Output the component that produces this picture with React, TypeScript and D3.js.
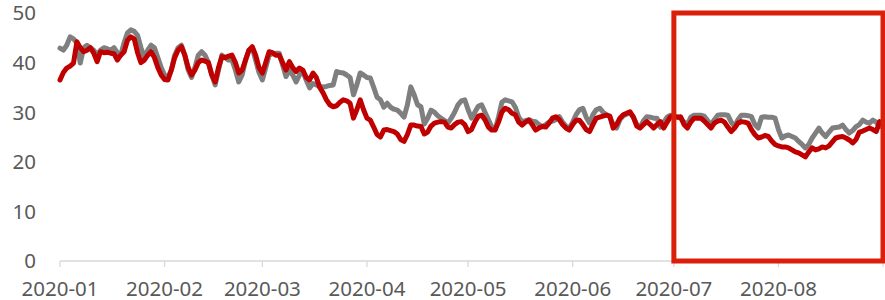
import * as d3 from 'd3';

// daily values, 2020-01-01 .. 2020-08-31
const grayValues = [
  42.9, 42.5, 43.5, 45.2, 44.8, 44.0, 39.9, 43.0, 43.5, 43.0, 42.5, 41.5, 42.5, 43.0,
  42.8, 42.5, 43.0, 42.0, 41.5, 44.0, 46.0, 46.6, 46.3, 45.5, 43.0, 41.0, 42.5, 43.5,
  43.0, 41.0, 39.0, 37.5, 37.0, 38.5, 41.5, 43.0, 43.5, 41.5, 38.5, 37.0, 39.0, 41.5,
  42.2, 41.5, 40.0, 37.5, 35.5, 38.5, 41.5, 41.0, 40.5, 40.5, 38.5, 36.1, 37.5, 40.5,
  42.5, 43.0, 40.5, 38.0, 36.5, 39.0, 41.5, 41.8, 41.9, 41.9, 39.5, 37.2, 38.5, 37.5,
  36.1, 37.5, 38.2, 36.5, 34.9, 35.8, 35.5, 35.2, 35.1, 35.2, 35.4, 35.5, 38.2, 38.0,
  37.9, 37.5, 37.0, 33.5, 35.5, 37.9, 37.5, 37.0, 36.9, 35.0, 33.0, 32.5, 31.0, 31.8,
  31.0, 30.6, 30.4, 29.8, 29.0, 31.5, 35.1, 33.5, 31.5, 31.1, 27.6, 28.8, 30.4, 30.0,
  29.3, 28.8, 28.3, 27.8, 28.8, 30.0, 31.5, 32.3, 32.5, 30.5, 28.8, 30.0, 31.2, 31.5,
  30.0, 28.5, 27.0, 26.5, 29.0, 32.0, 32.5, 32.3, 32.1, 31.0, 29.0, 28.1, 28.3, 28.5,
  28.2, 28.1, 27.5, 27.1, 27.5, 28.0, 28.2, 28.5, 29.1, 28.0, 27.2, 26.8, 28.0, 29.5,
  30.5, 30.8, 29.0, 27.8, 29.5, 30.5, 30.8, 30.0, 29.5, 29.1, 27.5, 26.8, 28.5, 29.3,
  29.6, 29.8, 29.0, 27.5, 27.0, 28.3, 29.1, 29.0, 28.8, 28.8, 27.0, 28.0, 29.0, 29.4,
  29.2, 29.0, 28.8, 28.0, 27.5, 29.0, 29.4, 29.4, 29.4, 29.2, 28.3, 27.4, 28.5, 29.4,
  29.5, 29.5, 29.4, 28.0, 27.1, 28.5, 29.4, 29.4, 29.3, 29.1, 27.5, 26.8, 29.0, 29.1,
  29.0, 29.0, 28.8, 26.5, 24.8, 25.2, 25.4, 25.1, 24.8, 24.1, 23.5, 22.8, 23.5, 24.8,
  25.8, 26.8, 25.8, 25.1, 26.0, 26.8, 26.9, 27.0, 27.4, 26.5, 25.8, 26.3, 27.1, 27.5,
  28.4, 28.0, 27.8, 28.4, 28.0, 27.1,
];

const redValues = [
  36.5, 38.0, 38.9, 39.3, 39.9, 44.2, 43.0, 42.2, 42.5, 43.0, 41.9, 40.2, 42.2, 42.0,
  42.1, 41.9, 41.8, 40.5, 41.5, 42.2, 44.5, 45.2, 44.8, 42.0, 40.0, 40.5, 41.5, 42.2,
  41.0, 39.0, 37.5, 36.6, 36.5, 38.5, 41.0, 42.5, 43.2, 41.5, 39.0, 37.5, 38.5, 40.0,
  40.5, 40.3, 40.0, 37.5, 36.1, 39.0, 41.2, 41.0, 41.3, 41.5, 40.0, 37.9, 38.5, 40.5,
  42.5, 43.2, 41.5, 39.0, 37.9, 40.0, 42.2, 42.0, 41.5, 41.5, 40.0, 38.5, 40.2, 39.0,
  38.2, 38.9, 38.5, 37.0, 36.5, 37.9, 37.0, 35.0, 33.9, 32.5, 31.5, 31.1, 31.3, 32.0,
  32.5, 32.3, 31.8, 28.8, 30.5, 32.5, 30.5, 28.8, 28.4, 27.0, 25.5, 25.0, 26.4, 26.5,
  26.3, 26.1, 25.6, 24.5, 24.1, 25.5, 27.4, 27.4, 27.2, 27.1, 25.6, 26.0, 27.2, 27.8,
  28.0, 28.1, 28.0, 27.0, 26.8, 27.5, 28.0, 28.1, 27.5, 26.1, 26.5, 28.0, 29.2, 29.4,
  28.5, 27.0, 26.4, 26.4, 28.0, 30.0, 30.8, 30.5, 29.8, 29.5, 28.0, 27.4, 28.0, 28.4,
  27.5, 26.4, 26.8, 27.1, 27.0, 27.8, 28.8, 29.1, 28.5, 27.5, 26.8, 26.4, 27.5, 28.4,
  28.4, 27.5, 26.5, 26.1, 27.5, 28.8, 29.0, 29.2, 29.4, 29.2, 26.8, 27.5, 28.8, 29.5,
  29.8, 30.1, 29.0, 27.2, 26.8, 27.5, 28.1, 27.5, 26.8, 27.5, 28.1, 26.8, 28.0, 29.1,
  29.2, 29.0, 29.1, 27.5, 26.8, 28.0, 28.8, 28.8, 28.8, 28.2, 27.5, 26.8, 27.8, 28.2,
  28.4, 28.0, 27.0, 26.1, 26.8, 27.8, 28.1, 28.0, 27.8, 26.5, 25.5, 24.8, 25.0, 25.3,
  25.1, 24.2, 23.5, 23.2, 23.0, 23.0, 22.8, 22.4, 22.0, 21.8, 21.4, 21.0, 22.0, 22.8,
  22.4, 22.6, 23.0, 22.8, 23.2, 24.0, 24.8, 25.0, 25.1, 24.8, 24.4, 23.8, 24.5, 26.0,
  26.2, 26.5, 26.8, 26.5, 26.1, 28.1,
];

const startDate = new Date(2020, 0, 1);
const endDate = new Date(2020, 8, 1);
const highlightStart = new Date(2020, 6, 1);
const yTicks = [0, 10, 20, 30, 40, 50];

const W = 885;
const H = 300;

export default function App() {
  const x = d3.scaleTime().domain([startDate, endDate]).range([60, 883]);
  const y = d3.scaleLinear().domain([0, 50]).range([261, 13]);

  const dates = grayValues.map((_, i) => d3.timeDay.offset(startDate, i));
  const line = d3
    .line<number>()
    .x((_, i) => x(dates[i]))
    .y((d) => y(d));

  const monthTicks = d3.timeMonth.range(startDate, d3.timeDay.offset(endDate, 1));
  const labelTicks = monthTicks.filter((d) => d < endDate);
  const fmt = d3.timeFormat('%Y-%m');
  const font = '"Noto Sans", sans-serif';

  return (
    <svg
      width={W}
      height={H}
      style={{ position: 'absolute', left: 0, top: 0, background: '#fff' }}
    >
      {/* y labels */}
      {yTicks.map((t) => (
        <text
          key={t}
          x={36}
          y={y(t)}
          dy="0.36em"
          textAnchor="end"
          fontFamily={font}
          fontSize={20.5}
          fill="#595959"
        >
          {t}
        </text>
      ))}

      {/* x axis */}
      <line x1={x(startDate)} x2={x(endDate)} y1={y(0)} y2={y(0)} stroke="#d9d9d9" strokeWidth={1.3} />
      {monthTicks.map((d) => (
        <line key={+d} x1={x(d)} x2={x(d)} y1={y(0)} y2={y(0) + 6} stroke="#d9d9d9" strokeWidth={1.3} />
      ))}
      {labelTicks.map((d) => (
        <text
          key={+d}
          x={x(d)}
          y={296}
          textAnchor="middle"
          fontFamily={font}
          fontSize={20.5}
          fill="#595959"
        >
          {fmt(d)}
        </text>
      ))}

      <path d={line(grayValues) || ''} fill="none" stroke="#7f7f7f" strokeWidth={5} strokeLinejoin="round" strokeLinecap="round" />
      <path d={line(redValues) || ''} fill="none" stroke="#c00000" strokeWidth={5} strokeLinejoin="round" strokeLinecap="round" />

      {/* highlight box */}
      <rect
        x={x(highlightStart)}
        y={y(50)}
        width={x(endDate) - x(highlightStart)}
        height={y(0) - y(50)}
        fill="none"
        stroke="#da1f0b"
        strokeWidth={5}
      />
    </svg>
  );
}
